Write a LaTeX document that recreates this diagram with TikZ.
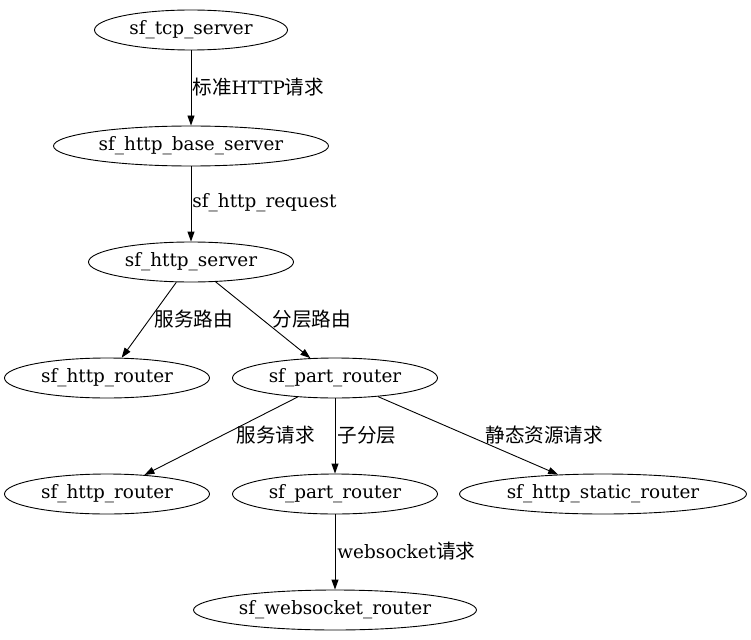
\documentclass[tikz,border=0pt]{standalone}
\usepackage{fontspec}
\setmainfont{DejaVu Serif}
\newfontfamily\cjk[Scale=1.065]{Noto Sans CJK SC}
\usepackage{tikz}
\usetikzlibrary{arrows.meta}
\usetikzlibrary{shapes.geometric}
\usetikzlibrary{positioning}
\tikzset{
  Knoten/.style={draw,ellipse,line width=0.9pt,inner sep=0pt,
    minimum height=40pt,minimum width=#1}, % Ellipsen
  Kante/.style={line width=0.9pt,->}, % Pfeile
  Label/.style={inner sep=0pt,anchor=west} % Kantenbeschriftung
}

\begin{document}
\begin{tikzpicture}[x=1pt,y=-1pt,
font=\fontsize{18.4}{20}\selectfont,
>={Triangle[length=10pt,width=7pt]} % Pfeilspitzen
]
\useasboundingbox (0,0) rectangle (751,639);

%Knoten
\node[Knoten=193pt] (tcp)    at (191,30)  {sf\_tcp\_server};
\node[Knoten=275pt] (base)   at (191,146) {sf\_http\_base\_server};
\node[Knoten=205pt] (http)   at (191,262) {sf\_http\_server};
\node[Knoten=205pt] (hrouterA) at (107,378) {sf\_http\_router};
\node[Knoten=205pt] (prouterA) at (335,378) {sf\_part\_router};
\node[Knoten=205pt] (hrouterB) at (107,494) {sf\_http\_router};
\node[Knoten=205pt] (prouterB) at (335,494) {sf\_part\_router};
\node[Knoten=287pt] (static) at (603,494) {sf\_http\_static\_router};
\node[Knoten=283pt] (ws)     at (335,610) {sf\_websocket\_router};

%Kanten
\draw[Kante] (tcp) -- node[Label, midway, xshift=1pt, yshift=1pt]{{\cjk 标准}HTTP{\cjk 请求}} (base);
\draw[Kante] (base) -- node[Label, midway, xshift=1pt, yshift=1pt]{sf\_http\_request} (http);
\draw[Kante] (http) -- node[Label, midway, xshift=5pt, yshift=1pt]{\cjk 服务路由} (hrouterA);
\draw[Kante] (http) -- node[Label, midway, xshift=9pt, yshift=1pt]{\cjk 分层路由} (prouterA);
\draw[Kante] (prouterA) -- node[Label, midway, xshift=15pt, yshift=1pt]{\cjk 服务请求} (hrouterB);
\draw[Kante] (prouterA) -- node[Label, midway, xshift=2pt, yshift=1pt]{\cjk 子分层} (prouterB);
\draw[Kante] (prouterA) -- node[Label, midway, xshift=17pt, yshift=1pt]{\cjk 静态资源请求} (static);
\draw[Kante] (prouterB) -- node[Label, midway, xshift=2pt, yshift=1pt]{websocket{\cjk 请求}} (ws);

\end{tikzpicture}
\end{document}
